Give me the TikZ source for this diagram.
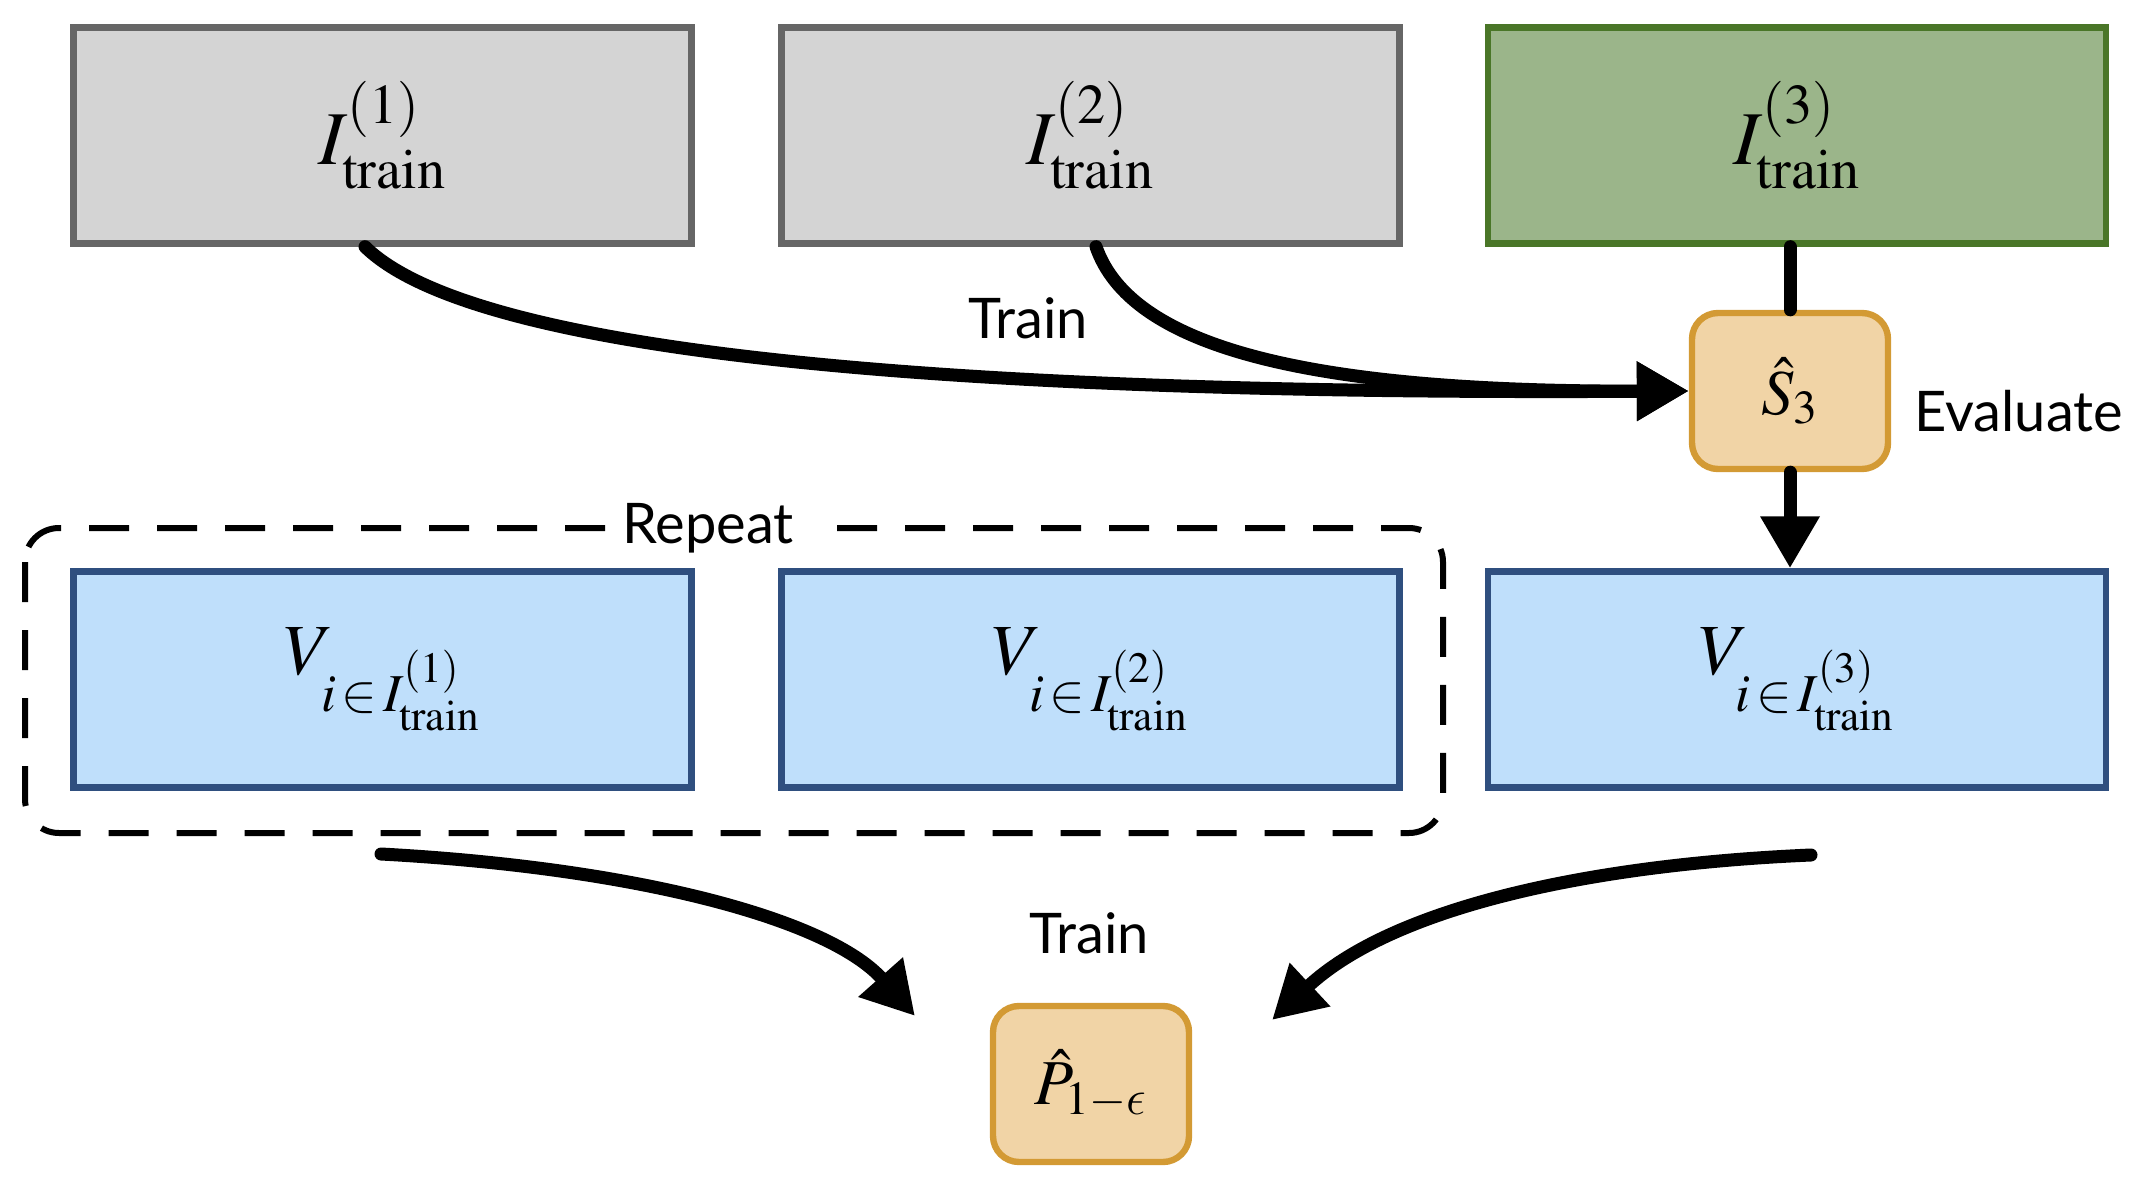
\documentclass[tikz,border=0pt]{standalone}
\usepackage{mathptmx}
\usepackage[no-math]{fontspec}
\setsansfont{Lato}
\DeclareSymbolFont{cmletters}{OML}{cmm}{m}{it}
\DeclareMathSymbol{\lunateeps}{\mathord}{cmletters}{"0F}
\usetikzlibrary{arrows.meta}
\definecolor{grayfill}{HTML}{D4D4D4}
\definecolor{graydraw}{HTML}{666666}
\definecolor{greenfill}{HTML}{9BB58A}
\definecolor{greendraw}{HTML}{4A7628}
\definecolor{bluefill}{HTML}{BFDFFB}
\definecolor{bluedraw}{HTML}{2F4F7F}
\definecolor{orangefill}{HTML}{F1D4A6}
\definecolor{orangedraw}{HTML}{D39A34}
\begin{document}
\begin{tikzpicture}[x=0.5pt,y=-0.5pt,
  bigbox/.style={rectangle, minimum width=309pt, minimum height=108pt, line width=3.2pt, inner sep=0pt},
  graybox/.style={bigbox, fill=grayfill, draw=graydraw},
  greenbox/.style={bigbox, fill=greenfill, draw=greendraw},
  bluebox/.style={bigbox, fill=bluefill, draw=bluedraw},
  smallbox/.style={rectangle, rounded corners=13pt, minimum width=98pt, minimum height=78pt, line width=3.2pt, fill=orangefill, draw=orangedraw, inner sep=0pt},
  mathbig/.style={font=\fontsize{38}{44}\selectfont},
  mathmid/.style={font=\fontsize{36}{42}\selectfont},
  mathsmall/.style={font=\fontsize{32}{38}\selectfont},
  lbl/.style={font=\sffamily\fontsize{28}{34}\selectfont, inner sep=2pt},
  conn/.style={line width=6.5pt, line cap=round},
  arr/.style={conn, -{Triangle[length=26pt,width=28pt]}},
]
\useasboundingbox (0,0) rectangle (2135,1187);

% top row
\node[graybox, mathbig] (i1) at (382.5,135.5) {$I^{(1)}_{\mathrm{train}}$};
\node[graybox, mathbig] (i2) at (1090.5,135.5) {$I^{(2)}_{\mathrm{train}}$};
\node[greenbox, mathbig] (i3) at (1797,135.5) {$I^{(3)}_{\mathrm{train}}$};

% evaluator
\node[smallbox, mathsmall] (s3) at (1790,391) {$\hat{S}_3$};
\node[lbl, anchor=west] (eval) at (1910,411) {Evaluate};

% middle row
\node[bluebox, mathmid] (v1) at (382.5,679.5) {$V_{i\,\in\, I^{(1)}_{\mathrm{train}}}$};
\node[bluebox, mathmid] (v2) at (1090.5,679.5) {$V_{i\,\in\, I^{(2)}_{\mathrm{train}}}$};
\node[bluebox, mathmid] (v3) at (1797,679.5) {$V_{i\,\in\, I^{(3)}_{\mathrm{train}}}$};

% repeat box
\draw[line width=3pt, dash pattern=on 20pt off 14pt, rounded corners=17pt] (25,528) rectangle (1443,833);
\node[lbl, fill=white, inner xsep=8pt] (rep) at (708,528) {Repeat};

% predictor
\node[smallbox, mathsmall] (p) at (1091,1084) {$\hat{P}_{1-\lunateeps}$};

% labels
\node[lbl] (train1) at (1028,318) {Train};
\node[lbl] (train2) at (1089,933) {Train};

% top connectors
\draw[arr] (i1.south -| 365,0) .. controls (480,360) and (1000,395) .. (s3.west);
\draw[arr] (i2.south -| 1096,0) .. controls (1130,345) and (1300,392) .. (s3.west);
\draw[conn] (i3.south -| s3.north) -- (s3.north);
\draw[arr] (s3.south) -- (v3.north -| s3.south);

% bottom connectors
\coordinate (b1s) at (381,854);
\coordinate (b1e) at (915,1016);
\coordinate (b2s) at (1811,855);
\coordinate (b2e) at (1272,1020);
\draw[arr] (b1s) .. controls (640,868) and (830,920) .. (b1e);
\draw[arr] (b2s) .. controls (1580,865) and (1390,910) .. (b2e);
\end{tikzpicture}
\end{document}
